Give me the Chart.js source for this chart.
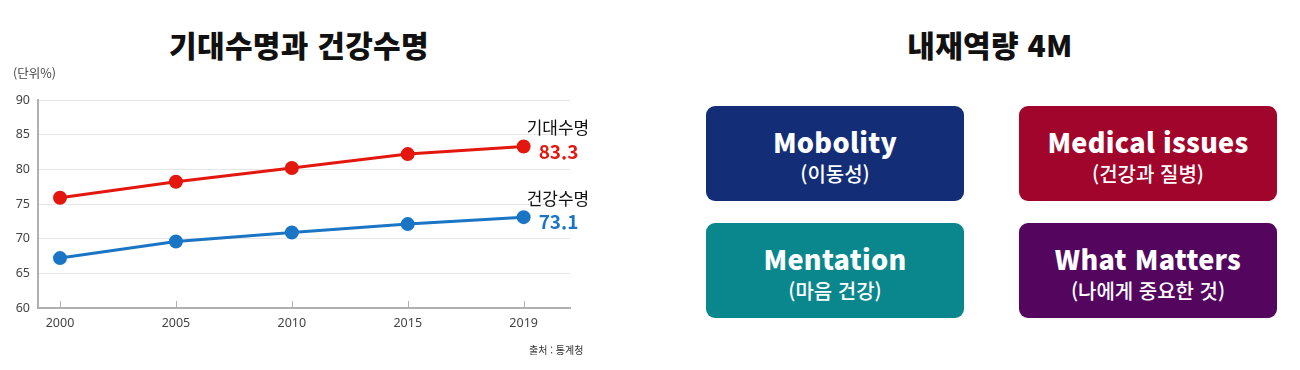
<!DOCTYPE html>
<html lang="ko">
<head>
<meta charset="utf-8">
<script src="https://cdn.jsdelivr.net/npm/chart.js@4"></script>
<style>
  body { margin: 0; background: #fff; font-family: "Noto Sans CJK KR", "Noto Sans", sans-serif; }
  #wrap { position: relative; width: 1300px; height: 370px; overflow: hidden; }
  .title { position: absolute; top: 22px; font-size: 30px; font-weight: 900; color: #111; text-align: center; line-height: 44px; letter-spacing: 0.3px; }
  #chartBox { position: absolute; left: 0; top: 0; width: 600px; height: 370px; }
  .unit { position: absolute; left: 13px; top: 63px; font-size: 12.5px; color: #444; }
  .source { position: absolute; left: 529px; top: 342px; font-size: 10px; color: #333; }
  .box { position: absolute; width: 258px; height: 95px; border-radius: 9px; color: #fff; text-align: center; }
  .box .en { position: absolute; left: 0; right: 0; top: 17px; font-size: 27px; font-weight: 800; line-height: 38px; letter-spacing: 0.3px; }
  .box .ko { position: absolute; left: 0; right: 0; top: 55px; font-size: 20px; font-weight: 500; line-height: 26px; }
</style>
</head>
<body>
<div id="wrap">
  <div class="title" style="left:0; width:598px;">기대수명과 건강수명</div>
  <div class="title" style="left:880px; width:220px;">내재역량 4M</div>
  <div id="chartBox"><canvas id="lifeChart"></canvas></div>
  <div class="unit">(단위%)</div>
  <div class="source">출처 : 통계청</div>

  <div class="box" style="left:706px; top:106px; background:#132e77;"><div class="en">Mobolity</div><div class="ko">(이동성)</div></div>
  <div class="box" style="left:1019px; top:106px; background:#a1052b;"><div class="en">Medical issues</div><div class="ko">(건강과 질병)</div></div>
  <div class="box" style="left:706px; top:223px; background:#09878c;"><div class="en">Mentation</div><div class="ko">(마음 건강)</div></div>
  <div class="box" style="left:1019px; top:223px; background:#54065f;"><div class="en">What Matters</div><div class="ko">(나에게 중요한 것)</div></div>
</div>

<script>
// 기대수명 / 건강수명 데이터
const years = ['2000', '2005', '2010', '2015', '2019'];
const lifeExpectancy = [75.9, 78.2, 80.2, 82.2, 83.3];
const healthyLife = [67.2, 69.6, 70.9, 72.1, 73.1];
const seriesNames = ['기대수명', '건강수명'];
const yTicks = [60, 65, 70, 75, 80, 85, 90];

const redColor = '#e3170d';
const blueColor = '#1b75c5';

// 마지막 점 옆에 이름과 값 표시
const endLabels = {
  id: 'endLabels',
  afterDatasetsDraw(chart) {
    const ctx = chart.ctx;
    ctx.save();
    ctx.textBaseline = 'middle';
    ctx.textAlign = 'left';
    chart.data.datasets.forEach((ds, i) => {
      const meta = chart.getDatasetMeta(i);
      const pt = meta.data[meta.data.length - 1];
      const val = ds.data[ds.data.length - 1].y;
      ctx.fillStyle = '#111';
      ctx.font = '17px "Noto Sans CJK KR"';
      ctx.fillText(ds.label, pt.x + 3, pt.y - 19);
      ctx.fillStyle = ds.borderColor;
      ctx.font = 'bold 19px "Noto Sans CJK KR"';
      ctx.fillText(val.toFixed(1), pt.x + 15, pt.y + 5);
    });
    ctx.restore();
  },
};

// x축 눈금선을 위쪽으로 그림
const upTicks = {
  id: 'upTicks',
  afterDraw(chart) {
    const ctx = chart.ctx;
    const x = chart.scales.x;
    ctx.save();
    ctx.strokeStyle = '#b0b0b0';
    ctx.lineWidth = 1;
    x.ticks.forEach((t) => {
      const px = Math.round(x.getPixelForValue(t.value)) + 0.5;
      ctx.beginPath();
      ctx.moveTo(px, x.top);
      ctx.lineTo(px, x.top - 7);
      ctx.stroke();
    });
    ctx.restore();
  },
};

new Chart(document.getElementById('lifeChart'), {
  type: 'line',
  data: {
    datasets: [
      {
        label: seriesNames[0],
        data: lifeExpectancy.map((v, i) => ({ x: i, y: v })),
        borderColor: redColor,
        backgroundColor: redColor,
        borderWidth: 3,
        pointRadius: 5.5,
        pointHoverRadius: 5.5,
      },
      {
        label: seriesNames[1],
        data: healthyLife.map((v, i) => ({ x: i, y: v })),
        borderColor: blueColor,
        backgroundColor: blueColor,
        borderWidth: 3,
        pointRadius: 5.5,
        pointHoverRadius: 5.5,
      },
    ],
  },
  options: {
    responsive: true,
    maintainAspectRatio: false,
    animation: false,
    layout: { padding: { top: 100, right: 30, bottom: 0, left: 0 } },
    plugins: { legend: { display: false }, tooltip: { enabled: false } },
    scales: {
      x: {
        type: 'linear',
        min: -0.19,
        max: 4.4,
        afterBuildTicks: (scale) => {
          scale.ticks = years.map((y, i) => ({ value: i }));
        },
        afterFit: (scale) => { scale.height = 62; },
        grid: { display: false, drawTicks: false },
        border: { color: '#b0b0b0', width: 2 },
        ticks: {
          padding: 8,
          color: '#444',
          font: { size: 12.5, family: '"Noto Sans", sans-serif' },
          callback: (v) => years[v],
        },
      },
      y: {
        min: 60,
        max: 90,
        afterBuildTicks: (scale) => {
          scale.ticks = yTicks.map((v) => ({ value: v }));
        },
        afterFit: (scale) => { scale.width = 38; },
        grid: { color: '#e6e6e6', drawTicks: false },
        border: { color: '#b0b0b0', width: 2 },
        ticks: {
          padding: 8,
          color: '#444',
          font: { size: 12.5, family: '"Noto Sans", sans-serif' },
        },
      },
    },
  },
  plugins: [endLabels, upTicks],
});
</script>
</body>
</html>
